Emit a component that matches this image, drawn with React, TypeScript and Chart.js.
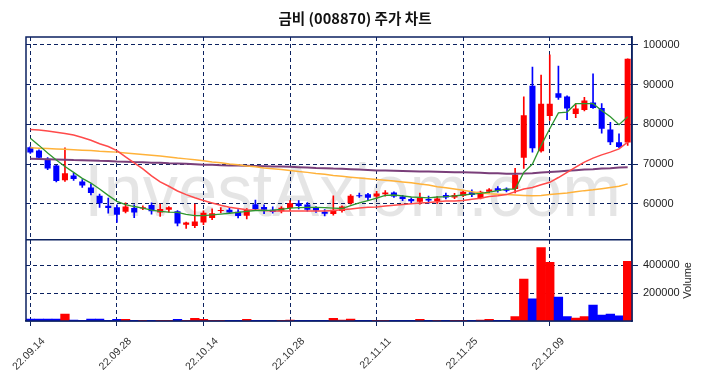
import React, { useEffect, useRef } from 'react';
import { Chart, registerables } from 'chart.js';

Chart.register(...registerables);

const dates = ['22.09.14','22.09.15','22.09.16','22.09.19','22.09.20','22.09.21','22.09.22','22.09.23','22.09.26','22.09.27','22.09.28','22.09.29','22.09.30','22.10.04','22.10.05','22.10.06','22.10.07','22.10.11','22.10.12','22.10.13','22.10.14','22.10.17','22.10.18','22.10.19','22.10.20','22.10.21','22.10.24','22.10.25','22.10.26','22.10.27','22.10.28','22.10.31','22.11.01','22.11.02','22.11.03','22.11.04','22.11.07','22.11.08','22.11.09','22.11.10','22.11.11','22.11.14','22.11.15','22.11.16','22.11.17','22.11.18','22.11.21','22.11.22','22.11.23','22.11.24','22.11.25','22.11.28','22.11.29','22.11.30','22.12.01','22.12.02','22.12.05','22.12.06','22.12.07','22.12.08','22.12.09','22.12.12','22.12.13','22.12.14','22.12.15','22.12.16','22.12.19','22.12.20','22.12.21','22.12.22'];

const opens = [74200,73400,71300,69600,65900,67100,65600,64100,62000,59500,59100,58000,58900,58800,59700,57800,58500,58100,54700,54400,55300,56400,58200,58500,58000,57000,59900,59200,58500,58100,58900,60100,59800,58900,58000,57400,58200,60100,62100,62400,61800,62400,62800,61800,61200,60500,61200,60600,62200,61600,62000,62900,61400,63000,63900,63800,63700,71600,89700,73200,82100,87800,87000,82600,83600,85500,84100,78700,75500,75400];
const highs = [74400,73600,71600,69700,74100,67700,66100,65000,62400,61400,59700,60200,59700,59500,60200,59900,59300,58300,55400,59900,58200,58700,59000,58900,58500,58800,60900,59700,59200,59300,60800,60800,60300,59300,58500,62000,59500,62300,62700,62600,63100,63300,63000,62100,61500,62700,61900,61800,62700,62600,63200,63500,63200,63800,64300,64000,68900,86900,94400,92400,97500,94700,87200,85200,86800,92700,85200,80500,77600,96500];
const lows = [72700,71500,68600,65500,65600,65900,64100,62200,59100,57600,55300,57700,56500,58500,57400,56800,57900,54400,53800,54000,54700,56000,57700,57500,56400,56200,58300,57500,57600,57700,58300,58700,58100,57800,56900,57100,57900,59900,61600,60800,61300,61900,61600,60800,60100,59900,60100,60100,61200,61300,61800,61800,61200,62700,62900,63000,62700,68900,73000,73000,81000,86300,81200,81700,83400,84000,77800,74900,74100,74700];
const closes = [72900,71600,68900,65700,67700,66200,64600,62700,60100,58900,57200,59300,57800,59100,58100,58700,59100,55000,55300,55500,57700,57600,58400,57800,56900,58400,58700,58500,57900,59000,60100,59400,58500,58300,57500,58500,59300,62000,61900,61500,62600,62800,61800,61200,60600,61500,60800,61300,61600,62200,63000,62200,63000,63600,63200,63300,67300,82300,74000,85200,85200,86700,84000,84000,86000,84100,78900,75500,74300,96500];
const volumes = [14000,14000,14000,14000,50000,7000,5000,14000,14000,5000,12000,12000,5000,4000,4000,5000,4000,12000,5000,20000,12000,5000,4000,4000,5000,12000,5000,4000,3000,4000,6000,4000,4000,3000,4000,20000,7000,14000,5000,4000,5000,4000,4000,4000,5000,12000,4000,5000,4000,4000,5000,4000,6000,12000,5000,5000,31000,302000,159000,528000,421000,171000,31000,21000,31000,114000,43000,50000,38000,429000];

const ma5 = [76500,74700,72800,71000,69400,67900,66400,65200,63700,62100,60600,59800,59300,58900,58400,58100,57900,57800,57300,57000,57000,57200,57400,57600,57800,58100,58300,58300,58400,58600,58900,59000,59100,59100,59000,58900,58800,59500,60200,60800,61400,62100,62200,62000,61700,61600,61500,61700,61800,62000,62200,62400,62600,62900,63300,63700,63700,67900,70000,74700,78900,82900,83100,85200,85200,85200,83500,81900,79900,81900];
const ma20 = [78700,78600,78300,78000,77700,77300,76700,76000,75100,74400,73400,71800,70300,68800,67000,65500,64400,63200,62300,61500,60800,60200,59600,59100,58800,58500,58400,58300,58200,58200,58200,58200,58200,58200,58200,58300,58500,58700,58900,59100,59200,59400,59600,59800,60000,60200,60300,60500,60700,60700,60800,61100,61400,61800,62000,62300,63000,63700,64100,64800,65400,66600,67900,69200,70500,71500,72300,73000,73800,75500];
const ma60 = [74100,74000,73900,73800,73700,73600,73500,73400,73200,73100,73000,72800,72600,72400,72200,72000,71800,71500,71300,71100,70800,70500,70300,70000,69800,69500,69300,69000,68800,68600,68400,68100,67900,67600,67400,67100,66900,66700,66500,66300,66100,65900,65700,65500,65300,65000,64700,64300,64000,63700,63400,63000,62700,62500,62400,62300,62200,62100,62000,62100,62300,62500,62700,63000,63300,63500,63800,64100,64400,65000];
const ma120 = [71300,71250,71200,71150,71100,71000,70950,70900,70800,70750,70650,70600,70500,70450,70350,70300,70200,70150,70050,69950,69850,69800,69700,69650,69600,69550,69500,69450,69400,69350,69300,69200,69100,69000,68950,68850,68800,68700,68600,68500,68400,68350,68300,68250,68200,68150,68100,68050,68000,67950,67900,67850,67800,67700,67650,67550,67550,67600,67700,67850,68000,68150,68300,68450,68600,68700,68850,68950,69100,69200];

const priceTicks = [60000, 70000, 80000, 90000, 100000];
const volumeTicks = [200000, 400000];
const titleText = '금비 (008870) 주가 차트';
const volumeLabel = 'Volume';
const watermark = 'InvestAxiom.com';

const RED = '#ff0000';
const BLUE = '#0000ff';
const NAVY = '#0b2160';
const FONT = '"Liberation Sans", Arial, sans-serif';

const decorPlugin = {
  id: 'decor',
  beforeDraw(chart: any) {
    const { ctx, chartArea } = chart;
    const yS = chart.scales.y;
    ctx.save();
    ctx.font = '74px ' + FONT;
    ctx.fillStyle = 'rgba(0,0,0,0.1)';
    ctx.textBaseline = 'alphabetic';
    const w = ctx.measureText(watermark).width;
    ctx.translate(chartArea.left + 58, yS.bottom - 24);
    ctx.scale(537 / w, 1);
    ctx.fillText(watermark, 0, 0);
    ctx.restore();
  },
  afterDraw(chart: any) {
    const { ctx, chartArea } = chart;
    const yS = chart.scales.y;
    const yV = chart.scales.yVol;
    ctx.save();
    ctx.strokeStyle = NAVY;
    ctx.lineWidth = 1.5;
    ctx.setLineDash([]);
    ctx.strokeRect(chartArea.left, chartArea.top, chartArea.right - chartArea.left, chartArea.bottom - chartArea.top);
    ctx.beginPath();
    ctx.moveTo(chartArea.left, yS.bottom);
    ctx.lineTo(chartArea.right, yS.bottom);
    ctx.stroke();
    ctx.fillStyle = '#222';
    ctx.font = '11px ' + FONT;
    ctx.textAlign = 'center';
    ctx.textBaseline = 'middle';
    ctx.translate(chartArea.right + 56, (yV.top + yV.bottom) / 2);
    ctx.rotate(-Math.PI / 2);
    ctx.fillText(volumeLabel, 0, 0);
    ctx.restore();
  },
};

export default function App() {
  const ref = useRef<HTMLCanvasElement | null>(null);
  useEffect(() => {
    const canvas = ref.current;
    if (!canvas) return;
    const colors = opens.map((o, i) => (closes[i] >= o ? RED : BLUE));
    const plainTick = (v: any) => String(v);
    const chart = new Chart(canvas, {
      type: 'bar',
      data: {
        labels: dates,
        datasets: [
          { type: 'line', label: 'MA5', data: ma5, borderColor: '#2e962e', borderWidth: 1.3, pointRadius: 0, yAxisID: 'y', order: 0 },
          { type: 'line', label: 'MA20', data: ma20, borderColor: '#ff4a4a', borderWidth: 1.5, pointRadius: 0, yAxisID: 'y', order: 0 },
          { type: 'line', label: 'MA60', data: ma60, borderColor: '#ffb23a', borderWidth: 1.5, pointRadius: 0, yAxisID: 'y', order: 0 },
          { type: 'line', label: 'MA120', data: ma120, borderColor: '#7a3f7a', borderWidth: 2, pointRadius: 0, yAxisID: 'y', order: 0 },
          { type: 'bar', label: 'body', data: opens.map((o, i) => [o, closes[i]]), backgroundColor: colors, barPercentage: 0.7, categoryPercentage: 1, grouped: false, minBarLength: 1, yAxisID: 'y', order: 2 },
          { type: 'bar', label: 'wick', data: lows.map((l, i) => [l, highs[i]]), backgroundColor: colors, barThickness: 1, grouped: false, yAxisID: 'y', order: 3 },
          { type: 'bar', label: 'volume', data: volumes, backgroundColor: colors, barPercentage: 1, categoryPercentage: 1, grouped: false, yAxisID: 'yVol', order: 4 },
        ] as any,
      },
      options: {
        animation: false,
        responsive: false,
        devicePixelRatio: 1,
        layout: { padding: { left: 26, right: 20, top: 0, bottom: 0 } },
        plugins: {
          legend: { display: false },
          tooltip: { enabled: false },
          title: {
            display: true,
            text: titleText,
            color: '#111',
            font: { family: '"Noto Sans CJK KR", sans-serif', size: 14.6, weight: 'bold', lineHeight: '18px' },
            padding: { top: 9, bottom: 10 },
          },
        },
        scales: {
          x: {
            offset: true,
            grid: { offset: false, color: NAVY, lineWidth: 1, tickLength: 5, tickColor: NAVY },
            border: { display: true, color: NAVY, width: 1.5, dash: [4, 3] },
            ticks: {
              autoSkip: false,
              minRotation: 45,
              maxRotation: 45,
              labelOffset: 13,
              padding: 9,
              color: '#333',
              font: { family: FONT, size: 10.5 },
              callback: (_v: any, i: number) => (i % 10 === 0 ? dates[i] : null),
            },
            afterFit: (s: any) => { s.height = 57; s.paddingLeft = 0; s.paddingRight = 0; },
          },
          y: {
            position: 'right',
            stack: 'main',
            stackWeight: 2.5,
            min: 50900,
            max: 102000,
            grid: { color: NAVY, lineWidth: 1, tickLength: 6, tickColor: NAVY },
            border: { display: true, color: NAVY, width: 1.5, dash: [4, 3] },
            ticks: { color: '#222', padding: 5, font: { family: FONT, size: 11 }, callback: plainTick },
            afterBuildTicks: (s: any) => { s.ticks = priceTicks.map((v) => ({ value: v })); },
            afterFit: (s: any) => { s.width = 52; s.paddingTop = 0; s.paddingBottom = 0; },
          },
          yVol: {
            position: 'right',
            stack: 'main',
            stackWeight: 1,
            min: 0,
            max: 583000,
            grid: { color: NAVY, lineWidth: 1, tickLength: 6, tickColor: NAVY },
            border: { display: true, color: NAVY, width: 1.5, dash: [4, 3] },
            ticks: { color: '#222', padding: 5, font: { family: FONT, size: 11 }, callback: plainTick },
            afterBuildTicks: (s: any) => { s.ticks = volumeTicks.map((v) => ({ value: v })); },
            afterFit: (s: any) => { s.width = 52; s.paddingTop = 0; s.paddingBottom = 0; },
          },
        },
      } as any,
      plugins: [decorPlugin],
    });
    return () => chart.destroy();
  }, []);
  return (
    <div style={{ position: 'fixed', left: 0, top: 0, width: 704, height: 378, background: '#fff' }}>
      <canvas ref={ref} width={704} height={378} style={{ display: 'block', width: 704, height: 378 }} />
    </div>
  );
}
